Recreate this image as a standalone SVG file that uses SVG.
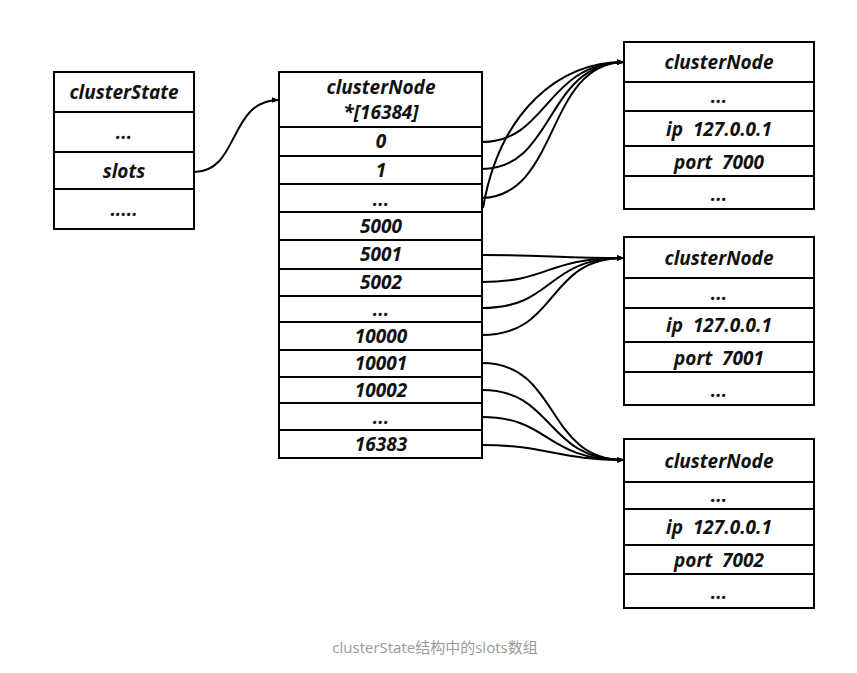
<svg xmlns="http://www.w3.org/2000/svg" width="857" height="673" viewBox="0 0 857 673">
<defs>
<marker id="arr" viewBox="0 0 10 10" refX="10" refY="5" markerWidth="7" markerHeight="7" markerUnits="userSpaceOnUse" orient="auto">
<path d="M0,1 L10,5 L0,9 z" fill="#000"/>
</marker>
<style>
.box{fill:#fff;stroke:#000;stroke-width:2}
.ln{stroke:#000;stroke-width:2}
.t{font-family:"Open Sans","DejaVu Sans",sans-serif;font-weight:bold;font-style:italic;font-size:19px;text-anchor:middle;fill:#111;white-space:pre}
.c{fill:none;stroke:#000;stroke-width:2;marker-end:url(#arr)}
.cap{font-family:"Open Sans","Noto Sans CJK SC",sans-serif;font-size:15px;fill:#999;text-anchor:middle}
</style>
</defs>
<rect width="857" height="673" fill="#fff"/>

<g id="clusterState">
<rect class="box" x="54" y="72" width="140" height="157"/>
<line class="ln" x1="54" y1="112" x2="194" y2="112"/>
<line class="ln" x1="54" y1="152" x2="194" y2="152"/>
<line class="ln" x1="54" y1="189" x2="194" y2="189"/>
<text class="t" x="124" y="99">clusterState</text>
<text class="t" x="124" y="139">...</text>
<text class="t" x="124" y="178">slots</text>
<text class="t" x="124" y="216">.....</text>
</g>

<g id="slotsArray">
<rect class="box" x="279" y="72" width="203" height="386"/>
<line class="ln" x1="279" y1="127" x2="482" y2="127"/>
<line class="ln" x1="279" y1="156" x2="482" y2="156"/>
<line class="ln" x1="279" y1="184" x2="482" y2="184"/>
<line class="ln" x1="279" y1="212" x2="482" y2="212"/>
<line class="ln" x1="279" y1="240" x2="482" y2="240"/>
<line class="ln" x1="279" y1="269" x2="482" y2="269"/>
<line class="ln" x1="279" y1="296" x2="482" y2="296"/>
<line class="ln" x1="279" y1="322" x2="482" y2="322"/>
<line class="ln" x1="279" y1="350" x2="482" y2="350"/>
<line class="ln" x1="279" y1="377" x2="482" y2="377"/>
<line class="ln" x1="279" y1="403" x2="482" y2="403"/>
<line class="ln" x1="279" y1="430" x2="482" y2="430"/>
<text class="t" x="381" y="94">clusterNode</text>
<text class="t" x="381" y="119">*[16384]</text>
<text class="t" x="381" y="148">0</text>
<text class="t" x="381" y="177">1</text>
<text class="t" x="381" y="206">...</text>
<text class="t" x="381" y="233">5000</text>
<text class="t" x="381" y="261">5001</text>
<text class="t" x="381" y="289">5002</text>
<text class="t" x="381" y="316">...</text>
<text class="t" x="381" y="343">10000</text>
<text class="t" x="381" y="370">10001</text>
<text class="t" x="381" y="397">10002</text>
<text class="t" x="381" y="424">...</text>
<text class="t" x="381" y="451">16383</text>
</g>

<g id="node7000">
<rect class="box" x="624" y="42" width="190" height="167"/>
<line class="ln" x1="624" y1="82" x2="814" y2="82"/>
<line class="ln" x1="624" y1="111" x2="814" y2="111"/>
<line class="ln" x1="624" y1="146" x2="814" y2="146"/>
<line class="ln" x1="624" y1="176" x2="814" y2="176"/>
<text class="t" x="719" y="69">clusterNode</text>
<text class="t" x="719" y="103">...</text>
<text class="t" x="719" y="136">ip  127.0.0.1</text>
<text class="t" x="719" y="169">port  7000</text>
<text class="t" x="719" y="201">...</text>
</g>

<g id="node7001">
<rect class="box" x="624" y="237" width="190" height="168"/>
<line class="ln" x1="624" y1="278" x2="814" y2="278"/>
<line class="ln" x1="624" y1="308" x2="814" y2="308"/>
<line class="ln" x1="624" y1="342" x2="814" y2="342"/>
<line class="ln" x1="624" y1="372" x2="814" y2="372"/>
<text class="t" x="719" y="265">clusterNode</text>
<text class="t" x="719" y="300">...</text>
<text class="t" x="719" y="332">ip  127.0.0.1</text>
<text class="t" x="719" y="365">port  7001</text>
<text class="t" x="719" y="397">...</text>
</g>

<g id="node7002">
<rect class="box" x="624" y="439" width="190" height="169"/>
<line class="ln" x1="624" y1="482" x2="814" y2="482"/>
<line class="ln" x1="624" y1="509" x2="814" y2="509"/>
<line class="ln" x1="624" y1="545" x2="814" y2="545"/>
<line class="ln" x1="624" y1="574" x2="814" y2="574"/>
<text class="t" x="719" y="468">clusterNode</text>
<text class="t" x="719" y="502">...</text>
<text class="t" x="719" y="534">ip  127.0.0.1</text>
<text class="t" x="719" y="567">port  7002</text>
<text class="t" x="719" y="599">...</text>
</g>

<g id="connectors">
<path class="c" d="M194,172 C240,172 228,100 279,100"/>
<path class="c" d="M482,142 C548,142 545,64 624,62"/>
<path class="c" d="M482,169 C555,169 545,64 624,62"/>
<path class="c" d="M482,198 C560,196 545,64 624,62"/>
<path class="c" d="M483,208 C500,110 560,62 624,62"/>
<path class="c" d="M482,255 C545,255 560,258 624,258"/>
<path class="c" d="M482,282 C550,282 545,258 624,258"/>
<path class="c" d="M482,308 C555,308 545,258 624,258"/>
<path class="c" d="M482,335 C560,335 545,258 624,258"/>
<path class="c" d="M482,363 C560,363 545,460 624,460"/>
<path class="c" d="M482,390 C555,390 545,460 624,460"/>
<path class="c" d="M482,417 C550,417 545,460 624,460"/>
<path class="c" d="M482,445 C545,445 560,460 624,460"/>
</g>

<text class="cap" x="435" y="653">clusterState结构中的slots数组</text>
</svg>
